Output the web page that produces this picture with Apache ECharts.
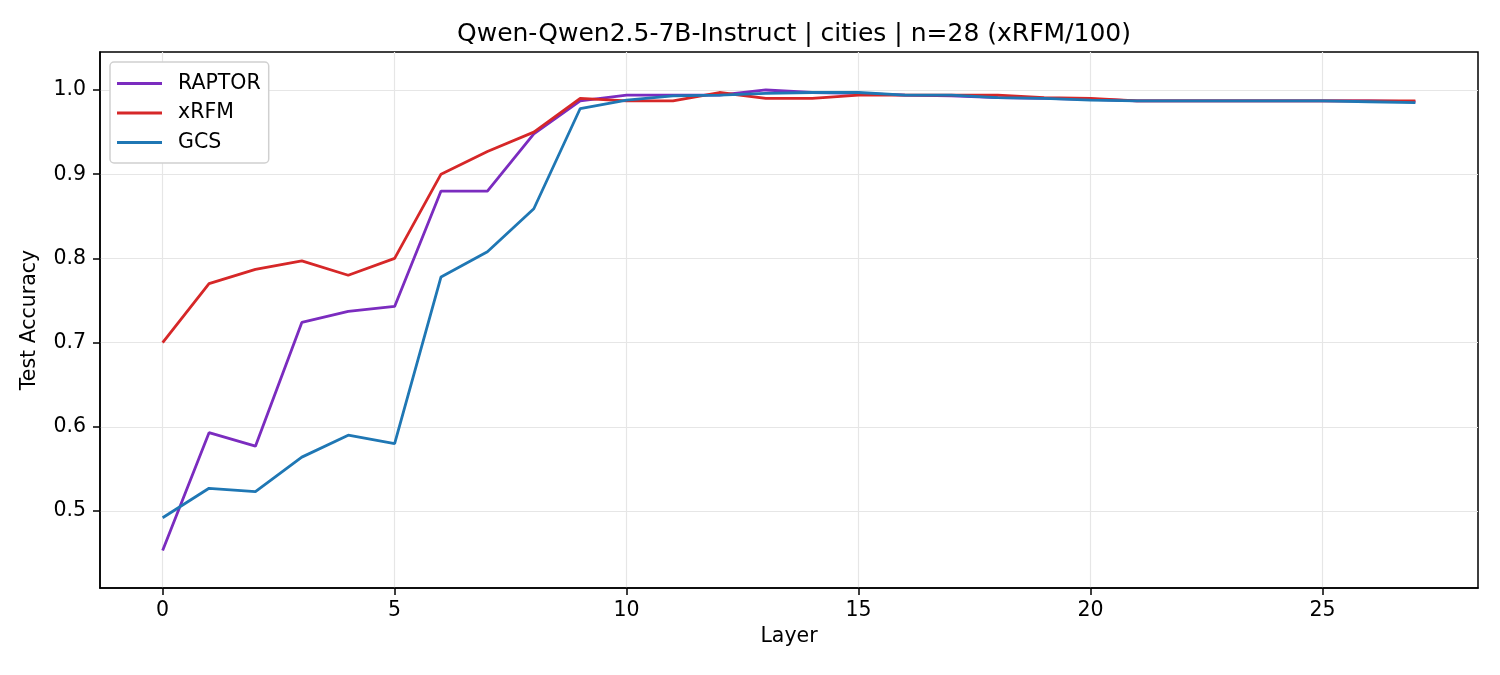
<!DOCTYPE html>
<html>
<head>
<meta charset="utf-8">
<script src="https://cdn.jsdelivr.net/npm/echarts@6/dist/echarts.min.js"></script>
<style>
html,body{margin:0;padding:0;background:#fff;}
#chart{width:1500px;height:675px;}
</style>
</head>
<body>
<div id="chart"></div>
<script>
const layers = [0,1,2,3,4,5,6,7,8,9,10,11,12,13,14,15,16,17,18,19,20,21,22,23,24,25,26,27];
const raptor = [0.453,0.593,0.577,0.724,0.737,0.743,0.880,0.880,0.948,0.987,0.994,0.994,0.994,1.000,0.997,0.996,0.994,0.993,0.991,0.990,0.989,0.987,0.987,0.987,0.987,0.987,0.987,0.986];
const xrfm   = [0.700,0.770,0.787,0.797,0.780,0.800,0.900,0.927,0.950,0.990,0.987,0.987,0.997,0.990,0.990,0.994,0.994,0.994,0.994,0.991,0.990,0.987,0.987,0.987,0.987,0.987,0.987,0.987];
const gcs    = [0.492,0.527,0.523,0.564,0.590,0.580,0.778,0.808,0.859,0.978,0.988,0.993,0.994,0.996,0.997,0.997,0.994,0.994,0.991,0.990,0.988,0.987,0.987,0.987,0.987,0.987,0.986,0.985];
const xTicks = [0,5,10,15,20,25];
const yTicks = [0.5,0.6,0.7,0.8,0.9,1.0];
const seriesNames = ['RAPTOR','xRFM','GCS'];
const seriesColors = ['#7b2cbf','#d62728','#1f77b4'];
const seriesData = [raptor, xrfm, gcs];

const FONT = 'DejaVu Sans';
const chart = echarts.init(document.getElementById('chart'), null, {renderer:'canvas'});
chart.setOption({
  animation:false,
  backgroundColor:'#fff',
  textStyle:{fontFamily:FONT},
  title:{
    text:'Qwen-Qwen2.5-7B-Instruct | cities | n=28 (xRFM/100)',
    left:789, textAlign:'center', top:17,
    textStyle:{fontFamily:FONT,fontSize:25,fontWeight:'normal',color:'#000'}
  },
  legend:{
    orient:'vertical', left:110, top:62,
    padding:[11,8,10,7],
    itemWidth:45, itemHeight:14, itemGap:8.5,
    backgroundColor:'#fff', borderColor:'#d0d0d0', borderWidth:1.5, borderRadius:4,
    textStyle:{fontFamily:FONT,fontSize:20.5,color:'#000',padding:[0,0,0,11]},
    icon:'path://M0,0 L15,0 L15,1 L0,1 Z',
    data:seriesNames.map((n,i)=>({name:n, itemStyle:{color:seriesColors[i]}}))
  },
  grid:{left:100,right:22,top:52,bottom:87,show:true,borderColor:'#000',borderWidth:1.5,backgroundColor:'transparent'},
  xAxis:{
    type:'value', min:-1.35, max:28.35,
    name:'Layer', nameLocation:'middle', nameGap:38,
    nameTextStyle:{fontFamily:FONT,fontSize:20.5,color:'#000'},
    axisLine:{show:true,onZero:false,lineStyle:{color:'#000',width:1.5}},
    axisTick:{show:true,length:7,customValues:xTicks,lineStyle:{color:'#000',width:1.5}},
    axisLabel:{customValues:xTicks,margin:12,fontFamily:FONT,fontSize:20.5,color:'#000',formatter:v=>String(v)},
    splitLine:{show:true,lineStyle:{color:'#e6e6e6',width:1.2}}
  },
  yAxis:{
    type:'value', min:0.4086, max:1.0451,
    name:'Test Accuracy', nameLocation:'middle', nameGap:60, nameRotate:90,
    nameTextStyle:{fontFamily:FONT,fontSize:20.5,color:'#000'},
    axisLine:{show:true,onZero:false,lineStyle:{color:'#000',width:1.5}},
    axisTick:{show:true,length:7,customValues:yTicks,lineStyle:{color:'#000',width:1.5}},
    axisLabel:{customValues:yTicks,margin:14,fontFamily:FONT,fontSize:20.5,color:'#000',formatter:v=>v.toFixed(1)},
    splitLine:{show:true,lineStyle:{color:'#e6e6e6',width:1.2}}
  },
  series:seriesNames.map((n,i)=>({
    name:n, type:'line', showSymbol:false, symbol:'none',
    data:layers.map((x,j)=>[x, seriesData[i][j]]),
    lineStyle:{color:seriesColors[i],width:2.8},
    itemStyle:{color:seriesColors[i]},
    z:2+i
  }))
});
</script>
</body>
</html>
